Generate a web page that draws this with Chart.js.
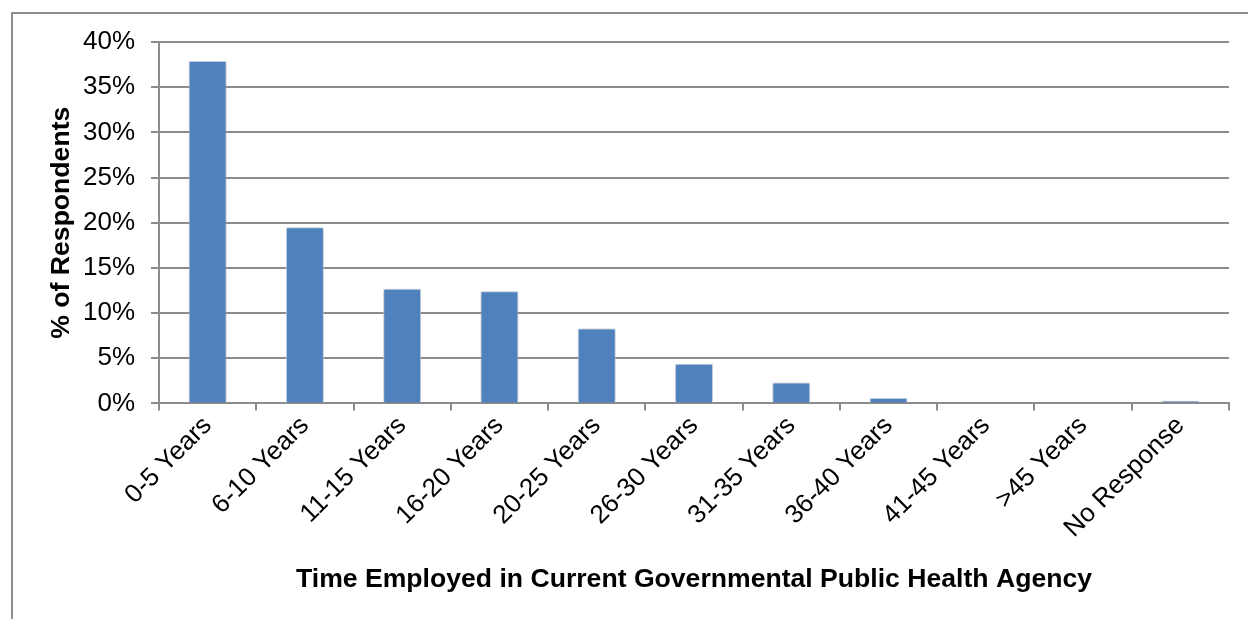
<!DOCTYPE html>
<html>
<head>
<meta charset="utf-8">
<title>Time Employed in Current Governmental Public Health Agency</title>
<script src="https://cdn.jsdelivr.net/npm/chart.js@4"></script>
<style>
    html, body { margin: 0; padding: 0; background: #fff; overflow: hidden; }
    #wrap { position: relative; width: 1248px; height: 619px; }
</style>
</head>
<body>
<div id="wrap"><canvas id="chart" width="1248" height="619"></canvas></div>
<script>
const categories = ["0-5 Years", "6-10 Years", "11-15 Years", "16-20 Years", "20-25 Years",
    "26-30 Years", "31-35 Years", "36-40 Years", "41-45 Years", ">45 Years", "No Response"];
const respondentShare = [37.9, 19.5, 12.7, 12.4, 8.3, 4.4, 2.3, 0.6, 0.1, 0, 0.3];
const yTickValues = [0, 5, 10, 15, 20, 25, 30, 35, 40];

const FONT = "'Liberation Sans', Arial, sans-serif";
const GRID = "#8c8c8c";

// outer frame of the chart object
const framePlugin = {
    id: "frame",
    beforeDraw: (chart) => {
        const ctx = chart.ctx;
        ctx.save();
        ctx.fillStyle = "#fff";
        ctx.fillRect(0, 0, chart.width, chart.height);
        ctx.strokeStyle = "#8e8e8e";
        ctx.lineWidth = 2;
        ctx.strokeRect(12, 13, 1400, 800);
        ctx.restore();
    }
};

// soft shadow under the bars
const shadowPlugin = {
    id: "barShadow",
    beforeDatasetsDraw: (chart) => {
        const ctx = chart.ctx;
        ctx.save();
        ctx.shadowColor = "rgba(0,0,0,0.28)";
        ctx.shadowBlur = 5;
        ctx.shadowOffsetX = 0;
        ctx.shadowOffsetY = 0;
    },
    afterDatasetsDraw: (chart) => {
        chart.ctx.restore();
    }
};

const chart = new Chart(document.getElementById("chart"), {
    type: "bar",
    data: {
        labels: categories,
        datasets: [{
            data: respondentShare,
            backgroundColor: "#4f81bd",
            borderColor: "rgba(210,225,245,0.9)",
            borderWidth: 1,
            barPercentage: 0.39,
            categoryPercentage: 1
        }]
    },
    options: {
        responsive: false,
        animation: false,
        devicePixelRatio: 1,
        layout: { padding: { left: 42, top: 42, right: 19, bottom: 23 } },
        plugins: {
            legend: { display: false },
            tooltip: { enabled: false }
        },
        scales: {
            x: {
                grid: {
                    display: true,
                    offset: true,
                    drawOnChartArea: false,
                    drawTicks: true,
                    tickLength: 7,
                    color: GRID,
                    lineWidth: 2
                },
                border: { display: true, color: GRID, width: 2 },
                ticks: {
                    autoSkip: false,
                    maxRotation: 45,
                    minRotation: 45,
                    padding: 0,
                    color: "#000",
                    font: { family: FONT, size: 26 }
                },
                title: {
                    display: true,
                    text: "Time Employed in Current Governmental Public Health Agency",
                    color: "#000",
                    font: { family: FONT, size: 26.6, weight: "bold" },
                    padding: { top: 0, bottom: 0 }
                },
                afterFit: (scale) => { scale.height = 192.6; }
            },
            y: {
                min: 0,
                max: 40,
                afterBuildTicks: (scale) => {
                    scale.ticks = yTickValues.map(v => ({ value: v }));
                },
                grid: {
                    color: GRID,
                    lineWidth: 2,
                    tickLength: 8
                },
                border: { display: true, color: GRID, width: 2 },
                ticks: {
                    padding: 16,
                    color: "#000",
                    font: { family: FONT, size: 26 },
                    callback: (value) => value + "%"
                },
                title: {
                    display: true,
                    text: "% of Respondents",
                    color: "#000",
                    font: { family: FONT, size: 26.6, weight: "bold" },
                    padding: { top: 4, bottom: 0 }
                },
                afterFit: (scale) => { scale.width = 117; }
            }
        }
    },
    plugins: [framePlugin, shadowPlugin]
});
</script>
</body>
</html>
